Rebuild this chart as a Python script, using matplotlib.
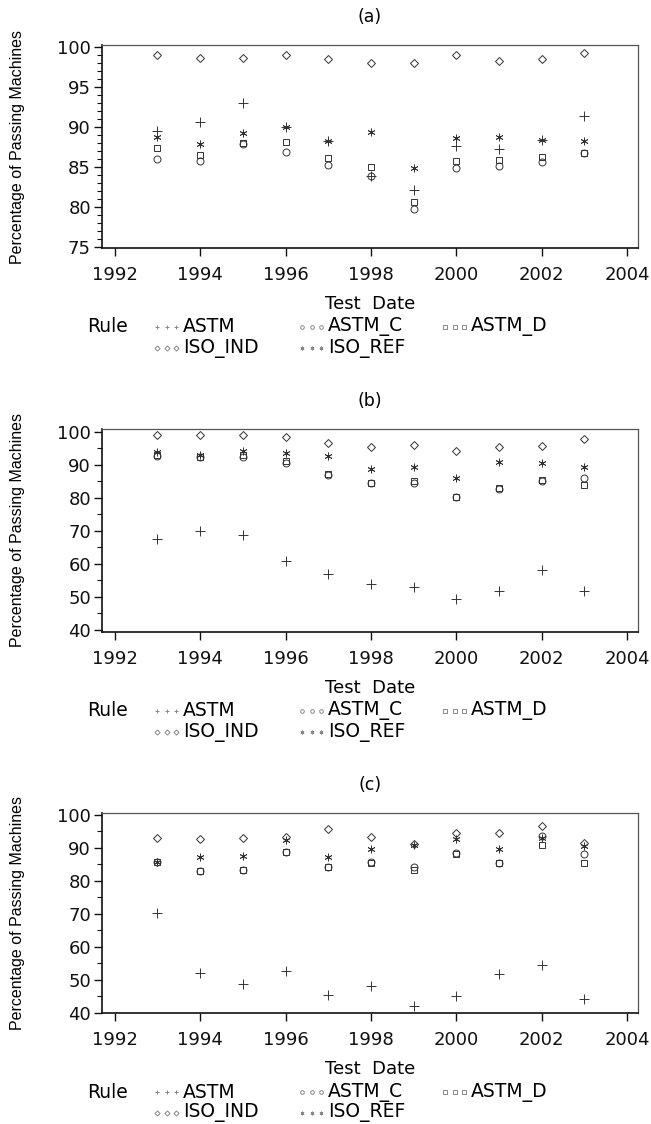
import matplotlib
matplotlib.use('Agg')
import matplotlib.pyplot as plt
from matplotlib.lines import Line2D
from matplotlib.ticker import MultipleLocator
from matplotlib import font_manager

years = [1993, 1994, 1995, 1996, 1997, 1998, 1999, 2000, 2001, 2002, 2003]
rules = ['ASTM', 'ASTM_C', 'ASTM_D', 'ISO_IND', 'ISO_REF']
xticks = [1992, 1994, 1996, 1998, 2000, 2002, 2004]

# Panel (a)
a_astm    = [89.5, 90.6, 93.0, 90.0, 88.2, 83.8, 82.1, 87.6, 87.2, 88.3, 91.3]
a_astm_c  = [86.0, 85.7, 87.8, 86.8, 85.2, 83.8, 79.7, 84.9, 85.1, 85.6, 86.75]
a_astm_d  = [87.4, 86.5, 88.0, 88.1, 86.1, 85.0, 80.6, 85.75, 85.8, 86.25, 86.75]
a_iso_ind = [98.9, 98.6, 98.6, 98.9, 98.4, 98.0, 98.0, 98.9, 98.25, 98.4, 99.2]
a_iso_ref = [88.75, 87.8, 89.2, 90.0, 88.2, 89.3, 84.9, 88.6, 88.75, 88.3, 88.2]

# Panel (b)
b_astm    = [67.5, 70.0, 68.75, 61.0, 56.9, 53.8, 52.9, 49.5, 51.7, 58.2, 51.8]
b_astm_c  = [92.5, 92.2, 92.4, 90.4, 86.9, 84.4, 84.4, 80.1, 82.8, 85.2, 85.9]
b_astm_d  = [93.0, 92.4, 92.8, 91.2, 87.2, 84.6, 85.2, 80.3, 83.0, 85.4, 83.8]
b_iso_ind = [99.0, 98.9, 99.0, 98.5, 96.5, 95.5, 95.9, 94.0, 95.3, 95.8, 97.7]
b_iso_ref = [93.8, 92.8, 94.0, 93.4, 92.6, 88.6, 89.3, 85.9, 90.7, 90.4, 89.4]

# Panel (c)
c_astm    = [70.1, 52.1, 48.6, 52.6, 45.3, 48.0, 41.9, 45.0, 51.6, 54.6, 44.0]
c_astm_c  = [85.8, 83.0, 83.2, 88.8, 84.3, 85.7, 84.3, 88.3, 85.4, 93.6, 88.0]
c_astm_d  = [85.8, 83.1, 83.3, 88.6, 84.1, 85.5, 83.3, 88.1, 85.3, 90.9, 85.3]
c_iso_ind = [92.9, 92.7, 92.9, 93.4, 95.6, 93.2, 91.0, 94.4, 94.6, 96.7, 91.6]
c_iso_ref = [85.8, 87.3, 87.5, 92.4, 87.1, 89.6, 90.9, 92.6, 89.6, 93.1, 90.4]

W, H = 651, 1124
fig = plt.figure(figsize=(W / 100, H / 100), dpi=100)
plt.rcParams['font.family'] = ['DejaVu Sans']

names = {f.name for f in font_manager.fontManager.ttflist}
if 'Liberation Sans Narrow' in names:
    ylab_font = ['Liberation Sans Narrow']
    ylab_size = 13
else:
    ylab_font = ['Liberation Sans']
    ylab_size = 11.5

markers = {
    'ASTM': dict(marker='+', ms=6.5, mew=0.7),
    'ASTM_C': dict(marker='o', ms=5, mew=0.7, mfc='none'),
    'ASTM_D': dict(marker='s', ms=5, mew=0.7, mfc='none'),
    'ISO_IND': dict(marker='D', ms=4, mew=0.7, mfc='none'),
    'ISO_REF': dict(marker=(6, 2, 0), ms=5.5, mew=0.6),
}
ink = '#333333'


def fx(x):
    return x / W


def fy(y):
    return 1 - y / H


def panel(top, bottom, title, ylim, ymajor, yminor, series):
    ax = fig.add_axes([fx(102), fy(bottom), fx(638) - fx(102), (bottom - top) / H])
    for rule, vals in zip(rules, series):
        ax.plot(years, vals, linestyle='none', color=ink, mec=ink, **markers[rule])
    ax.set_xlim(1991.7, 2004.26)
    ax.set_ylim(*ylim)
    ax.set_xticks(xticks)
    ax.yaxis.set_major_locator(MultipleLocator(ymajor))
    ax.yaxis.set_minor_locator(MultipleLocator(yminor))
    ax.tick_params(axis='both', which='major', direction='out', length=6, width=1,
                   labelsize=13, colors='#111')
    ax.tick_params(axis='x', which='major', pad=7)
    ax.tick_params(axis='y', which='major', pad=2)
    ax.tick_params(axis='y', which='minor', direction='out', length=3.5, width=0.8, colors='#111')
    for s in ['left', 'bottom']:
        ax.spines[s].set_linewidth(1.2)
        ax.spines[s].set_color('#111')
    for s in ['top', 'right']:
        ax.spines[s].set_linewidth(0.9)
        ax.spines[s].set_color('#555')
    fig.text(fx(370), fy(top - 28), title, ha='center', va='center', fontsize=12.5)
    fig.text(fx(370), fy(bottom + 56), 'Test  Date', ha='center', va='center', fontsize=13)
    fig.text(fx(18), fy((top + bottom) / 2), 'Percentage of Passing Machines', rotation=90,
             ha='center', va='center', fontsize=ylab_size, family=ylab_font)
    # legend
    r1 = bottom + 79
    r2 = bottom + 100
    fig.text(fx(87), fy(r1), 'Rule', ha='left', va='center', fontsize=13.5)
    pos = [(155, r1), (300, r1), (443, r1), (155, r2), (300, r2)]
    for rule, (x0, y0) in zip(rules, pos):
        m = markers[rule]
        for k in range(3):
            fig.add_artist(Line2D([fx(x0 + 2 + k * 9.5)], [fy(y0)], linestyle='none',
                                  marker=m['marker'], ms=2.6, mew=0.7, mfc='none',
                                  color='#888', mec='#888', transform=fig.transFigure))
        fig.text(fx(x0 + 28), fy(y0), rule, ha='left', va='center', fontsize=13.5)
    return ax


panel(45, 248, '(a)', (74.84, 100.21), 5, 1,
      [a_astm, a_astm_c, a_astm_d, a_iso_ind, a_iso_ref])
panel(429, 632, '(b)', (39.4, 100.8), 10, 5,
      [b_astm, b_astm_c, b_astm_d, b_iso_ind, b_iso_ref])
panel(812.5, 1013, '(c)', (39.9, 100.7), 10, 5,
      [c_astm, c_astm_c, c_astm_d, c_iso_ind, c_iso_ref])

fig.savefig('out.png', dpi=100)
